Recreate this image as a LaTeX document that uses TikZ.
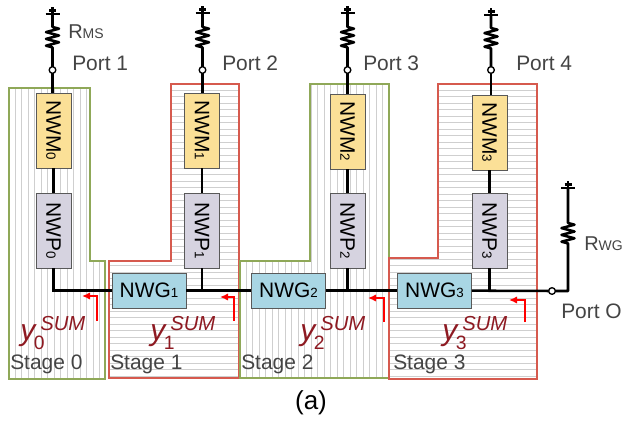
\documentclass[tikz,border=0pt]{standalone}
\usepackage{fontspec}
\setmainfont{Liberation Sans}
\usetikzlibrary{calc,arrows.meta}
\definecolor{grn}{HTML}{8FA858}
\definecolor{rd}{HTML}{D65A4E}
\definecolor{ylw}{HTML}{FBE097}
\definecolor{lav}{HTML}{D6D3E0}
\definecolor{blu}{HTML}{A9D6E4}
\definecolor{hatchc}{HTML}{CFCFCF}
\definecolor{dred}{HTML}{8E1A22}
\definecolor{txt}{HTML}{444444}
\newcommand{\fs}[1]{\fontsize{#1}{#1}\selectfont}
\newcommand{\zz}{-- ++(6.5,1.7) -- ++(-13,3.4) -- ++(13,3.4) -- ++(-13,3.4) -- ++(13,3.4) -- ++(-13,3.4) -- ++(6.5,1.7)}
\newcommand{\gnd}[1]{\draw[wire] ($(#1)+(-7,0)$) -- ($(#1)+(7,0)$); \draw[wire] ($(#1)+(-3.5,-3.5)$) -- ($(#1)+(3.5,-3.5)$); \draw[wire] (#1) -- ($(#1)+(0,-7)$);}
\tikzset{
  x=.75pt,y=-.75pt,
  wire/.style={line width=1.9pt,black},
  portc/.style={circle,draw=black,fill=white,line width=1pt,inner sep=0pt,minimum size=5pt},
  nwm/.style={draw=black!65,line width=.7pt,fill=ylw,rotate=-90,minimum width=56.2pt,minimum height=26.2pt,inner sep=0pt,font=\fs{15.7}},
  nwp/.style={nwm,fill=lav},
  nwg/.style={draw=black!65,line width=.7pt,fill=blu,minimum width=55.5pt,minimum height=26.2pt,inner sep=0pt,font=\fs{15.7}},
  lab/.style={anchor=base west,inner sep=0pt,text=txt,font=\fs{15.7}},
  ylab/.style={anchor=base west,inner sep=0pt,text=dred,font=\itshape\fs{22.5}},
  hatch/.style={hatchc,line width=.6pt},
  sg/.style={grn,line width=1.2pt},
  sr/.style={rd,line width=1.2pt},
  redarrow/.style={red,line width=1.1pt,-{Latex[length=6pt,width=5.5pt]}},
}
\newcommand{\lsub}[1]{{\fs{10}#1}}
\newcommand{\ys}[1]{y\rlap{\hspace{-1pt}\raisebox{-6.75pt}{\upshape\fs{14.5}#1}}\hspace{3.75pt}\raisebox{7.5pt}{\fs{15.2}SUM}}
\begin{document}
\begin{tikzpicture}
\useasboundingbox (0,0) rectangle (624,421);
\fill[white] (0,0) rectangle (624,421);
% stage hatching
\begin{scope}
\clip (9,88) -- (90,88) -- (90,261) -- (105,261) -- (105,379) -- (9,379) -- cycle;
\foreach \x in {15,21.5,...,105} \draw[hatch] (\x,80) -- (\x,385);
\end{scope}
\begin{scope}
\clip (109,261) -- (171,261) -- (171,84) -- (239,84) -- (239,378) -- (109,378) -- cycle;
\foreach \y in {90,96.5,...,378} \draw[hatch] (105,\y) -- (245,\y);
\end{scope}
\begin{scope}
\clip (240,261) -- (310,261) -- (310,84) -- (389,84) -- (389,378) -- (240,378) -- cycle;
\foreach \x in {246,252.5,...,389} \draw[hatch] (\x,80) -- (\x,385);
\end{scope}
\begin{scope}
\clip (389,258) -- (438,258) -- (438,84) -- (537,84) -- (537,379) -- (389,379) -- cycle;
\foreach \y in {90,96.5,...,378} \draw[hatch] (385,\y) -- (540,\y);
\end{scope}
% stage outlines
\draw[sg] (9,88) -- (90,88) -- (90,261) -- (105,261) -- (105,379) -- (9,379) -- cycle;
\draw[sr] (109,261) -- (171,261) -- (171,84) -- (239,84) -- (239,378) -- (109,378) -- cycle;
\draw[sg] (240,261) -- (310,261) -- (310,84) -- (389,84) -- (389,378) -- (240,378) -- cycle;
\draw[sr] (389,258) -- (438,258) -- (438,84) -- (537,84) -- (537,379) -- (389,379) -- cycle;
% blocks
\node[nwm] (m0) at (53.5,130.5) {NWM\lsub{0}};
\node[nwm] (m1) at (202,130.5) {NWM\lsub{1}};
\node[nwm] (m2) at (347.5,131.5) {NWM\lsub{2}};
\node[nwm] (m3) at (489.5,132.5) {NWM\lsub{3}};
\node[nwp] (p0) at (53.5,230.5) {NWP\lsub{0}};
\node[nwp] (p1) at (202,230.5) {NWP\lsub{1}};
\node[nwp] (p2) at (347.5,230.5) {NWP\lsub{2}};
\node[nwp] (p3) at (489.5,230.5) {NWP\lsub{3}};
\node[nwg] (g1) at (149,290.5) {NWG\lsub{1}};
\node[nwg] (g2) at (288.5,290.5) {NWG\lsub{2}};
\node[nwg] (g3) at (434.5,290.5) {NWG\lsub{3}};
% grounds and resistors
\coordinate (t1) at (52.5,14); \coordinate (t2) at (202.5,13); \coordinate (t3) at (347.5,13); \coordinate (t4) at (491,15); \coordinate (to) at (568,188);
\coordinate (r1) at (52.5,27); \coordinate (r2) at (202.5,27); \coordinate (r3) at (347.5,27); \coordinate (r4) at (491,28); \coordinate (ro) at (568,223);
\coordinate (a1c) at (52.5,70); \coordinate (a2c) at (202.5,70); \coordinate (a3c) at (347.5,70); \coordinate (a4c) at (491,70); \coordinate (aoc) at (552,291);
\gnd{t1} \gnd{t2} \gnd{t3} \gnd{t4} \gnd{to}
\draw[wire,line join=round] (t1) -- (r1) \zz -- (a1c);
\draw[wire,line join=round] (t2) -- (r2) \zz -- (a2c);
\draw[wire,line join=round] (t3) -- (r3) \zz -- (a3c);
\draw[wire,line join=round] (t4) -- (r4) \zz -- (a4c);
\draw[wire,line join=round] (to) -- (ro) \zz |- (aoc);
% connectors
\draw[wire] (a1c) -- (a1c |- m0.west);
\draw[wire] (a2c) -- (a2c |- m1.west);
\draw[wire] (a3c) -- (a3c |- m2.west);
\draw[wire] (a4c) -- (a4c |- m3.west);
\draw[wire] (m0) -- (p0);
\draw[wire] (m1) -- (p1);
\draw[wire] (m2) -- (p2);
\draw[wire] (m3) -- (p3);
\draw[wire] (p0) |- (g1);
\draw[wire] (p1) -- (p1 |- g1);
\draw[wire] (p2) -- (p2 |- g2);
\draw[wire] (p3) -- (p3 |- g3);
\draw[wire] (g1) -- (g2);
\draw[wire] (g2) -- (g3);
\draw[wire] (g3) -- (aoc);
% ports
\node[portc] (a1) at (a1c) {};
\node[portc] (a2) at (a2c) {};
\node[portc] (a3) at (a3c) {};
\node[portc] (a4) at (a4c) {};
\node[portc] (ao) at (aoc) {};
% red arrows
\coordinate (b0) at (97,321); \coordinate (b1) at (234,321); \coordinate (b2) at (384,322); \coordinate (b3) at (525,322);
\coordinate (c0) at (82,296); \coordinate (c1) at (220,297); \coordinate (c2) at (368,298); \coordinate (c3) at (509,300);
\draw[redarrow] (b0) |- (c0);
\draw[redarrow] (b1) |- (c1);
\draw[redarrow] (b2) |- (c2);
\draw[redarrow] (b3) |- (c3);
% labels
\node[lab,font=\fs{15}] (lms) at (68,38) {R\raisebox{-.5pt}{\fs{10.5}MS}};
\node[lab] (lp1) at (72,70) {Port 1};
\node[lab] (lp2) at (222,70) {Port 2};
\node[lab] (lp3) at (363,70) {Port 3};
\node[lab] (lp4) at (516,70) {Port 4};
\node[lab,font=\fs{15}] (lwg) at (584,250) {R\raisebox{-.5pt}{\fs{10.5}WG}};
\node[lab] (lpo) at (561,318) {Port O};
\node[lab] (s0) at (10,369) {Stage 0};
\node[lab] (s1) at (110,369) {Stage 1};
\node[lab] (s2) at (241,369) {Stage 2};
\node[lab] (s3) at (393,369) {Stage 3};
\node[ylab] (y0) at (20,340) {\ys{0}};
\node[ylab] (y1) at (150,340) {\ys{1}};
\node[ylab] (y2) at (300,340) {\ys{2}};
\node[ylab] (y3) at (442,340) {\ys{3}};
\node[anchor=base,inner sep=0pt,font=\fs{19.5},text=black] (cap) at (311,409) {(a)};
\end{tikzpicture}
\end{document}
